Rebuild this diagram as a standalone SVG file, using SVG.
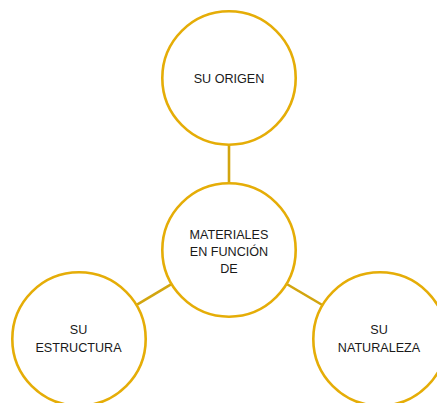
<svg xmlns="http://www.w3.org/2000/svg" width="437" height="403" viewBox="0 0 437 403">
<style>
.node circle{fill:#ffffff;stroke:#E5AD07;stroke-width:2.6}
.conn line{stroke:#D2A50F;stroke-width:2.6}
text{font-family:"Liberation Sans",Arial,sans-serif;font-size:12.6px;fill:#1a1a1a;text-anchor:middle}
</style>
<rect width="437" height="403" fill="#ffffff"/>
<g id="connectors" class="conn">
<line x1="229" y1="145" x2="229" y2="183"/>
<line x1="171.4" y1="284.2" x2="136.6" y2="304.8"/>
<line x1="286.7" y1="284" x2="322.3" y2="305"/>
</g>
<g id="node-origen" class="node">
<circle cx="229" cy="78" r="66.7"/>
<text x="229" y="83">SU ORIGEN</text>
</g>
<g id="node-materiales" class="node">
<circle cx="229" cy="250" r="66.7"/>
<text x="229" y="239">MATERIALES</text>
<text x="229" y="256">EN FUNCIÓN</text>
<text x="229" y="273">DE</text>
</g>
<g id="node-estructura" class="node">
<circle cx="79" cy="339" r="66.7"/>
<text x="78.5" y="334">SU</text>
<text x="78.5" y="351.5">ESTRUCTURA</text>
</g>
<g id="node-naturaleza" class="node">
<circle cx="380" cy="339" r="66.7"/>
<text x="379" y="334">SU</text>
<text x="379" y="351.5">NATURALEZA</text>
</g>
</svg>
